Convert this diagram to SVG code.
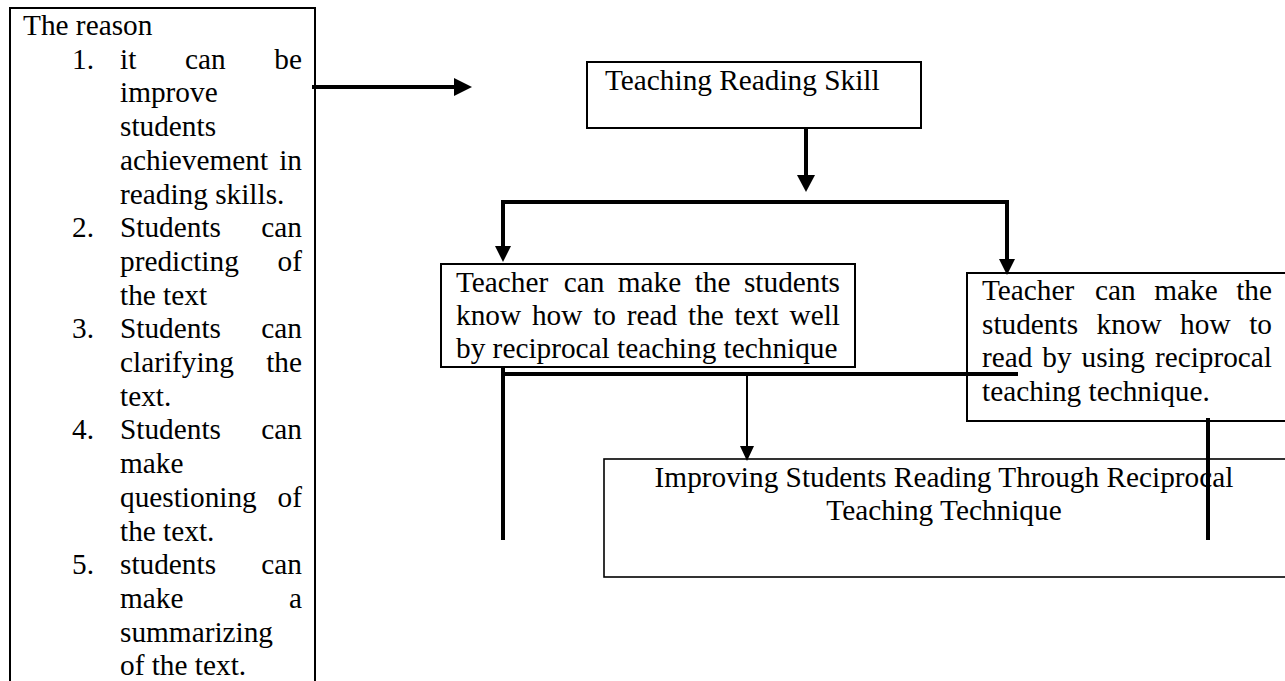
<svg xmlns="http://www.w3.org/2000/svg" width="1285" height="681" viewBox="0 0 1285 681">
<style>
text{font-family:"Liberation Serif","Times New Roman",serif;font-size:29.3px;fill:#000}
.e{text-anchor:end}
.m{text-anchor:middle}
.box{fill:#fff;stroke:#000;stroke-width:2}
.thin{fill:#fff;stroke:#000;stroke-width:1.6}
.c{stroke:#000;fill:none;stroke-width:4}
.c2{stroke:#000;fill:none;stroke-width:2}
.h{fill:#000;stroke:none}
</style>
<rect width="1285" height="681" fill="#fff"/>
<g id="reasons">
<rect class="box" x="10" y="8" width="305" height="690"/>
<text x="23" y="35">The reason</text>
<text x="72" y="68.7">1.</text><text x="120" y="68.7">it</text><text x="185" y="68.7">can</text><text class="e" x="302" y="68.7">be</text>
<text x="120" y="102.4">improve</text>
<text x="120" y="136.1">students</text>
<text x="120" y="169.8">achievement</text><text class="e" x="302" y="169.8">in</text>
<text x="120" y="203.5">reading skills.</text>
<text x="72" y="237.2">2.</text><text x="120" y="237.2">Students</text><text class="e" x="302" y="237.2">can</text>
<text x="120" y="270.9">predicting</text><text class="e" x="302" y="270.9">of</text>
<text x="120" y="304.6">the text</text>
<text x="72" y="338.3">3.</text><text x="120" y="338.3">Students</text><text class="e" x="302" y="338.3">can</text>
<text x="120" y="372">clarifying</text><text class="e" x="302" y="372">the</text>
<text x="120" y="405.7">text.</text>
<text x="72" y="439.4">4.</text><text x="120" y="439.4">Students</text><text class="e" x="302" y="439.4">can</text>
<text x="120" y="473.1">make</text>
<text x="120" y="506.8">questioning</text><text class="e" x="302" y="506.8">of</text>
<text x="120" y="540.5">the text.</text>
<text x="72" y="574.2">5.</text><text x="120" y="574.2">students</text><text class="e" x="302" y="574.2">can</text>
<text x="120" y="607.9">make</text><text class="e" x="302" y="607.9">a</text>
<text x="120" y="641.6">summarizing</text>
<text x="120" y="675.3">of the text.</text>
</g>
<g id="teaching-reading-skill">
<rect class="box" x="587" y="62" width="334" height="66"/>
<text x="605" y="90">Teaching Reading Skill</text>
</g>
<g id="teacher-left">
<rect class="box" x="441" y="264" width="414" height="103"/>
<text x="456" y="292">Teacher</text><text x="563.7" y="292">can</text><text x="617.8" y="292">make</text><text x="694.7" y="292">the</text><text class="e" x="840" y="292">students</text>
<text x="456" y="325">know</text><text x="531.9" y="325">how</text><text x="593.2" y="325">to</text><text x="626.8" y="325">read</text><text x="688" y="325">the</text><text x="734.6" y="325">text</text><text class="e" x="840" y="325">well</text>
<text x="456" y="358">by reciprocal teaching technique</text>
</g>
<g id="teacher-right">
<rect class="box" x="967" y="273" width="330" height="148"/>
<text x="982" y="300">Teacher</text><text x="1094.9" y="300">can</text><text x="1154.2" y="300">make</text><text class="e" x="1272" y="300">the</text>
<text x="982" y="333.5">students</text><text x="1096.5" y="333.5">know</text><text x="1180.1" y="333.5">how</text><text class="e" x="1272" y="333.5">to</text>
<text x="982" y="367">read</text><text x="1042.3" y="367">by</text><text x="1081.5" y="367">using</text><text class="e" x="1272" y="367">reciprocal</text>
<text x="982" y="400.5">teaching technique.</text>
</g>
<g id="improving">
<rect class="thin" x="604" y="459" width="700" height="118"/>
<text class="m" x="944" y="487">Improving Students Reading Through Reciprocal</text>
<text class="m" x="944" y="520">Teaching Technique</text>
</g>
<g id="connectors">
<line class="c" x1="312" y1="87" x2="456" y2="87"/>
<polygon class="h" points="454,78 472,87 454,96"/>
<line class="c" x1="806" y1="128" x2="806" y2="177"/>
<polygon class="h" points="797,175 806,192 815,175"/>
<line class="c" x1="501" y1="202" x2="1009" y2="202"/>
<line class="c" x1="503" y1="200" x2="503" y2="248"/>
<polygon class="h" points="495,246 503,262 511,246"/>
<line class="c" x1="1007" y1="200" x2="1007" y2="261"/>
<polygon class="h" points="999,259 1007,275 1015,259"/>
<line class="c" x1="503" y1="367" x2="503" y2="540"/>
<line class="c" x1="501" y1="374" x2="1018" y2="374"/>
<line class="c2" x1="747" y1="374" x2="747" y2="447"/>
<polygon class="h" points="740,446 747,461 754,446"/>
<line class="c" x1="1208" y1="418" x2="1208" y2="540" stroke-width="3"/>
</g>
</svg>
